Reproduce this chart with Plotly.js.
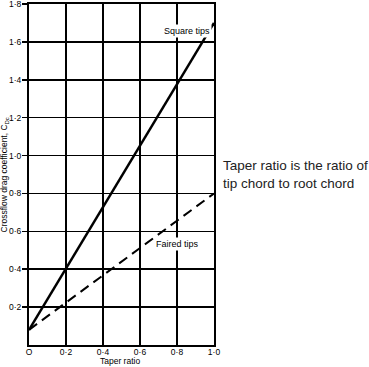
<!DOCTYPE html>
<html><head><meta charset="utf-8">
<script src="https://cdn.plot.ly/plotly-3.0.1.min.js"></script>
<style>html,body{margin:0;padding:0;background:#fff}</style>
</head><body>
<div id="chart" style="width:369px;height:367px"></div>
<script>
const taperRatio = [0, 1.0];
const squareTips = [0.08, 1.7];
const fairedTips = [0.08, 0.8];
const xTickVals = [0, 0.2, 0.4, 0.6, 0.8, 1.0];
const xTickText = ["O", "0·2", "0·4", "0·6", "0·8", "1·0"];
const yTickVals = [0.2, 0.4, 0.6, 0.8, 1.0, 1.2, 1.4, 1.6, 1.8];
const yTickText = ["0·2", "0·4", "0·6", "0·8", "1·0", "1·2", "1·4", "1·6", "1·8"];

const font = "Liberation Sans, Arial, sans-serif";
const data = [
  {x: taperRatio, y: squareTips, mode: "lines", line: {color: "#000", width: 2.5}, name: "Square tips"},
  {x: taperRatio, y: fairedTips, mode: "lines", line: {color: "#000", width: 2, dash: "10px,6px"}, name: "Faired tips"}
];
const layout = {
  width: 369, height: 367,
  margin: {l: 29, r: 155, t: 4, b: 22},
  paper_bgcolor: "#fff", plot_bgcolor: "#fff",
  showlegend: false,
  font: {family: font, size: 9, color: "#000"},
  xaxis: {
    range: [0, 1.0], tickvals: xTickVals, ticktext: xTickText,
    showgrid: true, gridcolor: "#000", gridwidth: 1.5,
    showline: true, linecolor: "#000", linewidth: 2, mirror: true,
    zeroline: false, ticks: "", automargin: false, ticklabelstandoff: -2,
    ticklabeloverflow: "allow", tickfont: {size: 8.5}
  },
  yaxis: {
    range: [0, 1.8], tickvals: yTickVals, ticktext: yTickText,
    showgrid: true, gridcolor: "#000", gridwidth: 1.5,
    showline: true, linecolor: "#000", linewidth: 2, mirror: true,
    zeroline: false, ticks: "outside", ticklen: 5, tickwidth: 1.5, tickcolor: "#000",
    automargin: false, ticklabeloverflow: "allow", ticklabelstandoff: -1, tickfont: {size: 8.5}
  },
  annotations: [
    {x: 0.855, y: 1.66, xref: "x", yref: "y", text: "Square tips", showarrow: false,
     bgcolor: "#fff", font: {size: 9}},
    {x: 0.8, y: 0.535, xref: "x", yref: "y", text: "Faired tips", showarrow: false,
     bgcolor: "#fff", font: {size: 9}},
    {xref: "paper", yref: "paper", x: 0.49, y: -0.048, xanchor: "center", yanchor: "middle",
     text: "Taper ratio", showarrow: false, font: {size: 8.5}},
    {xref: "paper", yref: "paper", x: -0.13, y: 0.5, xanchor: "center", yanchor: "middle",
     textangle: -90, text: "Crossflow drag coefficient, C<sub>Dc</sub>", showarrow: false, font: {size: 8.5}},
    {xref: "paper", yref: "paper", x: 1.04, y: 0.5, xanchor: "left", yanchor: "middle",
     align: "left", showarrow: false,
     text: "Taper ratio is the ratio of<br>tip chord to root chord",
     font: {family: font, size: 13.5, color: "#222"}}
  ]
};
Plotly.newPlot("chart", data, layout, {displayModeBar: false, staticPlot: true});
</script>
</body></html>
